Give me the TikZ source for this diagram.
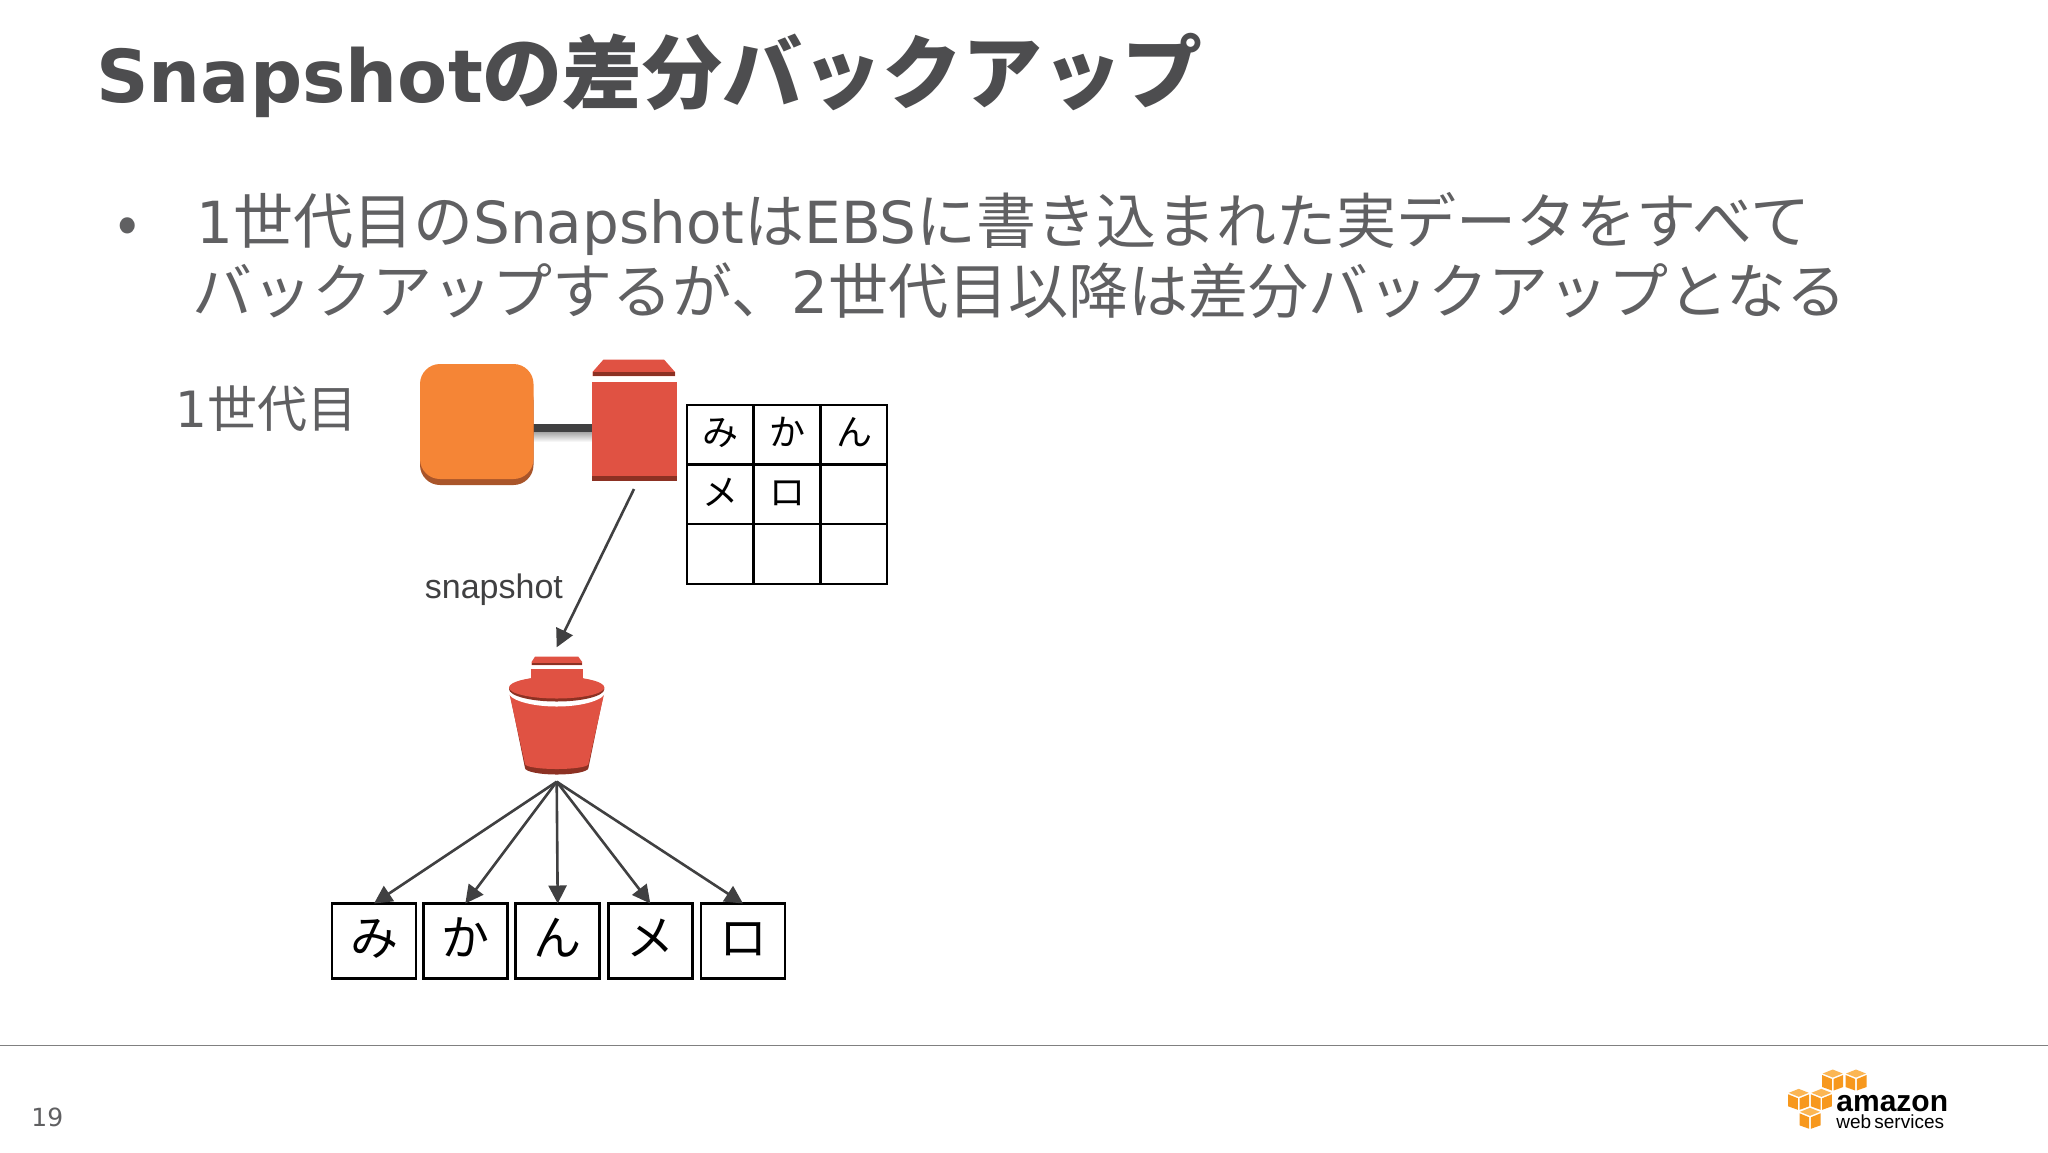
\documentclass[tikz,border=0pt]{standalone}
\usepackage{fontspec}
\setmainfont{Noto Sans CJK JP}
\newfontfamily\lat{DejaVu Sans}
\newfontfamily\arial{Liberation Sans}
\usetikzlibrary{arrows.meta}
\definecolor{titlegray}{HTML}{4D4D4F}
\definecolor{bodygray}{HTML}{606062}
\definecolor{linegray}{HTML}{404041}
\definecolor{awsorange}{HTML}{F58536}
\definecolor{awsorangedark}{HTML}{A9552A}
\definecolor{awsred}{HTML}{E05243}
\definecolor{awsreddark}{HTML}{8C3123}
\definecolor{cubeorange}{HTML}{F7981D}
\definecolor{cubelight}{HTML}{FBB654}
\tikzset{%
   cell/.style={
      draw=black,
      line width=1pt,
      inner sep=0pt,
      outer sep=0pt,
      minimum width=33.3pt,
      minimum height=30pt,
      text height=15.8pt,
      text depth=4.8pt,
      font=\fontsize{18}{18}\selectfont
   },
   letter/.style={
      draw=black,
      line width=1.4pt,
      inner sep=0pt,
      outer sep=0pt,
      minimum width=42pt,
      minimum height=37.5pt,
      text height=21pt,
      text depth=6.9pt,
      font=\fontsize{24}{24}\selectfont
   },
   arr/.style={
      draw=linegray,
      line width=1.3pt,
      -{Triangle[length=9pt,width=9pt]}
   },
   txt/.style={
      anchor=base west,
      inner sep=0pt,
      text=bodygray,
      font=\fontsize{30}{30}\selectfont
   },
   cube/.pic={
      \fill[cubelight] (0,-10.5) -- (10,-6.5) -- (0,-2.5) -- (-10,-6.5) -- cycle;
      \fill[cubeorange] (-10.5,-5) -- (-0.8,-1) -- (-0.8,10.5) -- (-10.5,7) -- cycle;
      \fill[cubeorange] (10.5,-5) -- (0.8,-1) -- (0.8,10.5) -- (10.5,7) -- cycle;
   },
}
\begin{document}
\begin{tikzpicture}[x=.5pt, y=-.5pt]
   \useasboundingbox[fill=white] (0,0) rectangle (2048,1152);
   % heading and bullet text
   \node[txt, text=titlegray, font=\fontsize{40}{40}\selectfont\bfseries] (title) at (96,102)
      {{\fontsize{36.5}{36.5}\selectfont\lat Snapshot}の差分バックアップ};
   \node[txt] (dot) at (117,243) {•};
   \node[txt] (line1) at (196,243)
      {{\fontsize{29}{29}\selectfont\lat 1}世代目の{\fontsize{29}{29}\selectfont\lat Snapshot}は{\fontsize{29}{29}\selectfont\lat EBS}に書き込まれた実データをすべて};
   \node[txt] (line2) at (192,313)
      {バックアップするが、{\fontsize{29}{29}\selectfont\lat 2}世代目以降は差分バックアップとなる};
   \node[txt, font=\fontsize{25}{25}\selectfont] (gen) at (175,427) {{\lat 1}世代目};
   % instance and volume
   \coordinate (barA) at (533,428);
   \coordinate (barB) at (592,428);
   \shade[top color=gray!70, bottom color=white] (533,432) rectangle (592,442);
   \draw[linegray, line width=4pt] (barA) -- (barB);
   \fill[awsorangedark, rounded corners=10pt] (420,380) rectangle (533.5,485);
   \fill[awsorange, rounded corners=10pt] (420,364) rectangle (533.5,479);
   \fill[awsred] (603.5,359.5) -- (664,359.5) -- (675,372) -- (675,376) -- (592.5,376) -- (592.5,372) -- cycle;
   \fill[awsreddark] (592.5,372) rectangle (675,376);
   \fill[awsred] (591.5,382) rectangle (677,476);
   \fill[awsreddark] (591.5,476) rectangle (677,481);
   % table
   \node[cell] (t00) at (720,434.6) {み};
   \node[cell] (t01) at (787,434.6) {か};
   \node[cell] (t02) at (854,434.6) {ん};
   \node[cell] (t10) at (720,494.4) {メ};
   \node[cell] (t11) at (787,494.4) {ロ};
   \node[cell] (t12) at (854,494.4) {};
   \node[cell] (t20) at (720,554.4) {};
   \node[cell] (t21) at (787,554.4) {};
   \node[cell] (t22) at (854,554.4) {};
   % snapshot arrow
   \coordinate (volend) at (634,489);
   \coordinate (bucktop) at (556.7,647.3);
   \draw[arr] (volend) -- (bucktop);
   \node[anchor=base west, inner sep=0pt, text=linegray, font=\fontsize{17}{17}\selectfont\arial] (snap) at (424.5,598) {snapshot};
   % bucket
   \fill[awsreddark] (509.5,692) -- (525,768) arc [start angle=180, end angle=0, x radius=31.7, y radius=6.5] -- (604,692) -- cycle;
   \fill[awsred] (509,692) -- (525,764) arc [start angle=180, end angle=0, x radius=31.7, y radius=5] -- (604.5,692) -- cycle;
   \fill[white] (556.7,691) ellipse [x radius=49, y radius=15.5];
   \fill[awsreddark] (556.7,689) ellipse [x radius=47.7, y radius=12.5];
   \fill[awsred] (556.7,687.5) ellipse [x radius=47.7, y radius=11];
   \fill[awsred] (530.7,669) rectangle (582.7,682);
   \fill[awsred] (535,656.7) -- (578.3,656.7) -- (582,661.7) -- (582,665) -- (531.7,665) -- (531.7,661.7) -- cycle;
   \fill[awsreddark] (531.7,662.7) rectangle (582,665);
   % letters
   \node[letter] (b0) at (374,941) {み};
   \node[letter] (b1) at (465.3,941) {か};
   \node[letter] (b2) at (557.7,941) {ん};
   \node[letter] (b3) at (650.3,941) {メ};
   \node[letter] (b4) at (743,941) {ロ};
   \coordinate (fan) at (556.7,781.7);
   \draw[arr] (fan) -- (b0.north);
   \draw[arr] (fan) -- (b1.north);
   \draw[arr] (fan) -- (b2.north);
   \draw[arr] (fan) -- (b3.north);
   \draw[arr] (fan) -- (b4.north);
   % footer
   \coordinate (ruleA) at (0,1045.5);
   \coordinate (ruleB) at (2048,1045.5);
   \draw[gray, line width=.5pt] (ruleA) -- (ruleB);
   \node[txt, font=\fontsize{12.5}{12.5}\selectfont\lat] (page) at (31,1126) {19};
   \pic at (1832.7,1080) {cube};
   \pic at (1856,1080) {cube};
   \pic at (1798.7,1099.3) {cube};
   \pic at (1821.3,1099.3) {cube};
   \pic at (1810,1118.3) {cube};
   \node[anchor=base west, inner sep=0pt, text=black, font=\fontsize{15}{15}\selectfont\arial\bfseries] (amazon) at (1836,1111) {amazon};
   \node[anchor=base west, inner sep=0pt, text=black, font=\fontsize{9.5}{9.5}\selectfont\arial] (web) at (1836,1128) {web\,services};
\end{tikzpicture}
\end{document}
